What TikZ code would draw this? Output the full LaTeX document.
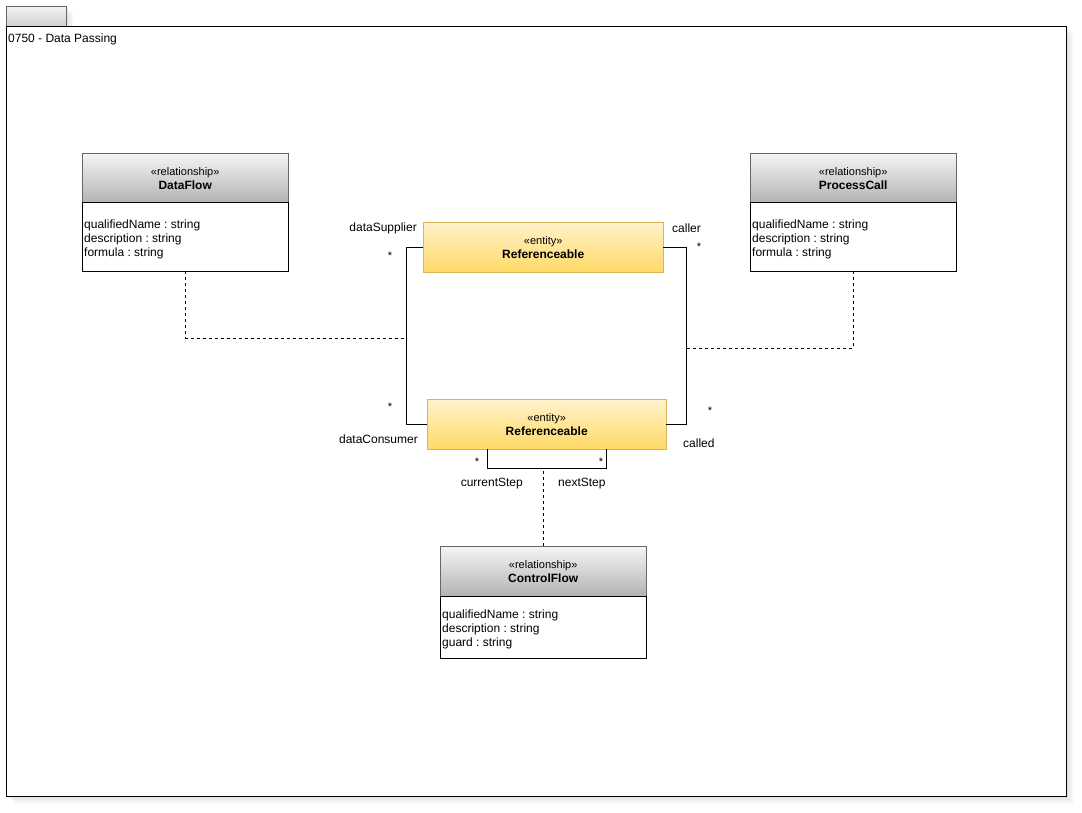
\documentclass[tikz,border=0pt]{standalone}
\usepackage{fontspec}
\setmainfont{Liberation Sans}
\frenchspacing
\begin{document}
\begin{tikzpicture}[x=1pt,y=-1pt,
  txt/.style={font=\fontsize{12}{14}\selectfont, inner sep=0pt},
  small/.style={font=\fontsize{11}{13}\selectfont, inner sep=0pt},
  classhead/.style={draw=black!60, top color=black!4, bottom color=black!30,
    minimum width=206pt, minimum height=50pt, anchor=north west, align=center,
    inner sep=0pt, font=\fontsize{12}{14}\selectfont},
  classbody/.style={draw=black, fill=white, minimum width=206pt,
    anchor=north west, inner sep=0pt},
  attrs/.style={anchor=west, align=left, inner sep=0pt,
    font=\fontsize{12}{14}\selectfont},
  entity/.style={draw={rgb,255:red,214;green,182;blue,86},
    top color={rgb,255:red,255;green,242;blue,204},
    bottom color={rgb,255:red,255;green,217;blue,102},
    minimum width=240pt, minimum height=50pt, anchor=north west, align=center,
    inner sep=0pt, font=\fontsize{12}{14}\selectfont},
  assoc/.style={draw=black, line width=0.9pt},
  link/.style={draw=black, line width=0.9pt, dash pattern=on 3pt off 3pt}]

\useasboundingbox (0,0) rectangle (1082,812);
\fill[white] (0,0) rectangle (1082,812);

% soft shadow under the frame and its tab
\foreach \d/\o in {8/0.05,6/0.07,4/0.09,2/0.11}{
  \fill[blue!25!black!40, opacity=\o] (6+\d,26+\d) rectangle (1066+\d,796+\d);
  \fill[blue!25!black!40, opacity=\o] (6+\d,6+\d) rectangle (66+\d,26);
}
% package frame with tab
\draw[black!60, top color=black!5, bottom color=black!18] (6,6) rectangle (66,26);
\draw[black, fill=white, line width=0.9pt] (6,26) rectangle (1066,796);
\node[txt, anchor=west] (title) at (8,39) {0750 - Data Passing};

% DataFlow
\node[classhead] (dfh) at (82,153) {{\fontsize{11}{14}\selectfont «relationship»}\\\textbf{DataFlow}};
\node[classbody, minimum height=69pt] (dfb) at (82,202) {};
\node[attrs] (dfa) at ([xshift=2pt,yshift=-2.5pt]dfb.west) {qualifiedName : string\\description : string\\formula : string};

% ProcessCall
\node[classhead] (pch) at (750,153) {{\fontsize{11}{14}\selectfont «relationship»}\\\textbf{ProcessCall}};
\node[classbody, minimum height=69pt] (pcb) at (750,202) {};
\node[attrs] (pca) at ([xshift=2pt,yshift=-2.5pt]pcb.west) {qualifiedName : string\\description : string\\formula : string};

% ControlFlow
\node[classhead] (cfh) at (440,546) {{\fontsize{11}{14}\selectfont «relationship»}\\\textbf{ControlFlow}};
\node[classbody, minimum height=62pt] (cfb) at (440,596) {};
\node[attrs] (cfa) at ([xshift=2pt,yshift=-2pt]cfb.west) {qualifiedName : string\\description : string\\guard : string};

% Referenceable entities
\node[entity] (rt) at (423,222) {{\fontsize{11}{14}\selectfont «entity»}\\\textbf{Referenceable}};
\node[entity, minimum width=239pt] (rb) at (427,399) {{\fontsize{11}{14}\selectfont «entity»}\\\textbf{Referenceable}};

% associations
\draw[assoc] (rt.west) -- ++(-17,0) coordinate (ls) |- (rb.west);
\draw[assoc] (rt.east) -- ++(23,0) coordinate (rs) |- (rb.east);
\draw[assoc] ([xshift=-59.5pt]rb.south) -- ++(0,19) coordinate (lp) -| ([xshift=59.5pt]rb.south);

% association classes
\coordinate (dfj) at (ls |- 0,338);
\coordinate (pcj) at (rs |- 0,348);
\coordinate (cfj) at (cfh.north |- lp);
\draw[link] (dfb.south) |- (dfj);
\draw[link] (pcb.south) |- (pcj);
\draw[link] (cfh.north) -- (cfj);

% role names and multiplicities
\node[txt, anchor=east] (r1) at (417,228) {dataSupplier};
\node[small] (m1) at (390,256) {*};
\node[txt, anchor=west] (r2) at (672,228) {caller};
\node[small] (m2) at (699,247) {*};
\node[small] (m3) at (390,407) {*};
\node[txt, anchor=east] (r3) at (418,439) {dataConsumer};
\node[small] (m4) at (710,411) {*};
\node[txt, anchor=west] (r4) at (683,443) {called};
\node[small] (m5) at (477,462) {*};
\node[small] (m6) at (601,462) {*};
\node[txt, anchor=east] (r5) at (523,484) {currentStep};
\node[txt, anchor=west] (r6) at (558,484) {nextStep};
\end{tikzpicture}
\end{document}
